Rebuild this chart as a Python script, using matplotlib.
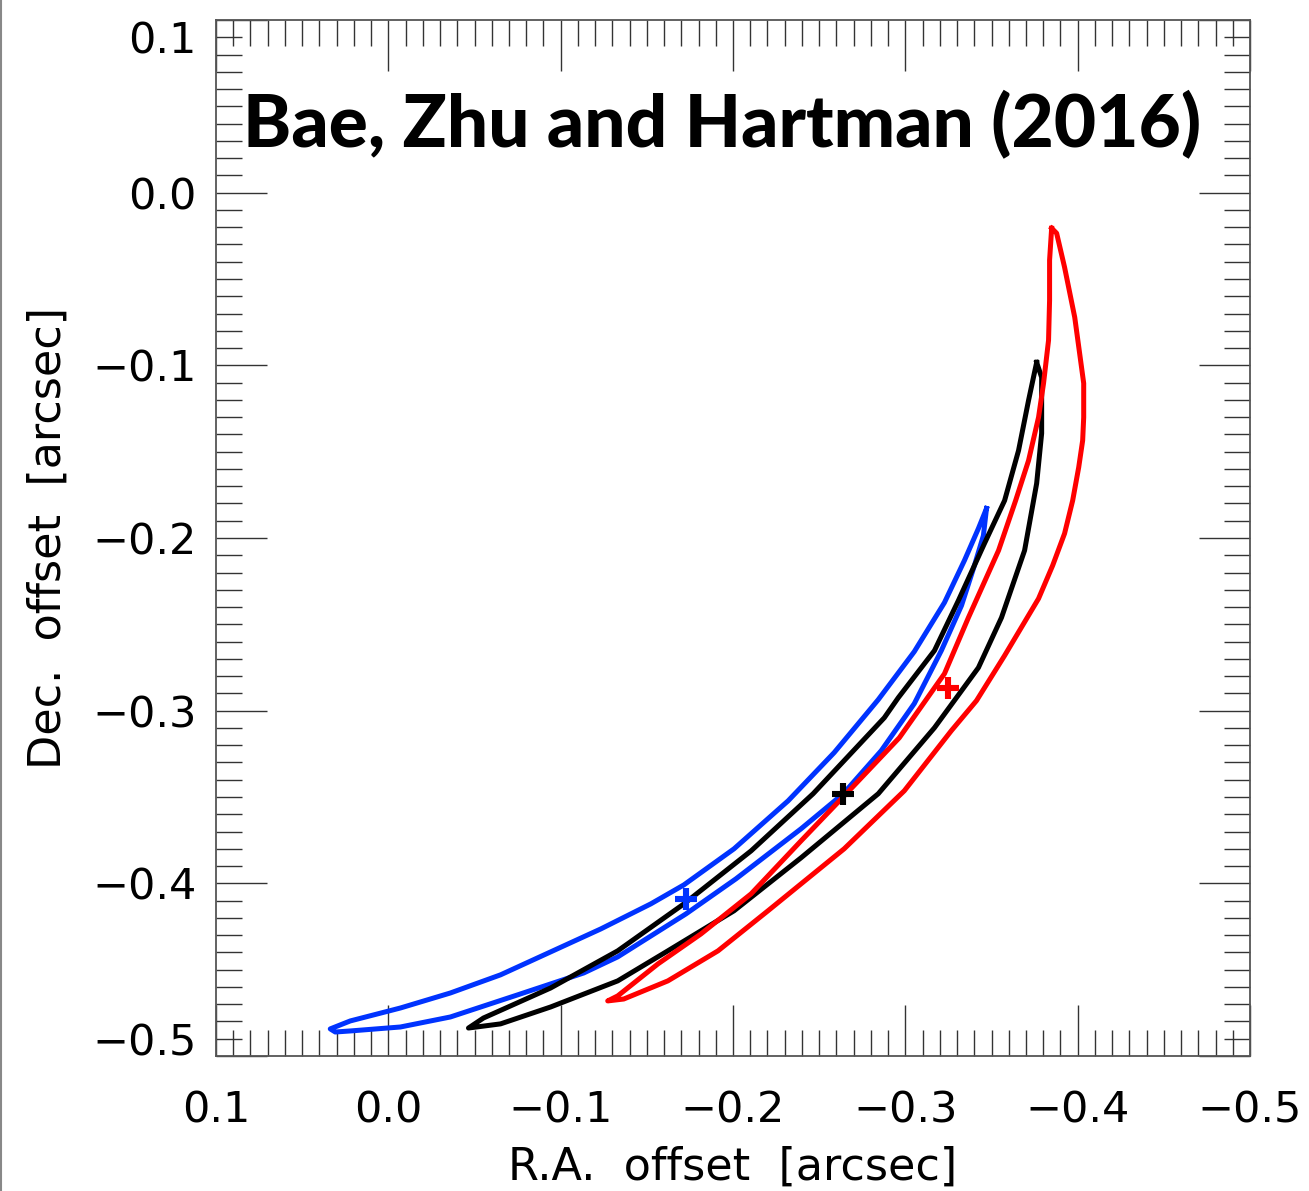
import matplotlib
matplotlib.use("Agg")
import matplotlib.pyplot as plt
from matplotlib.ticker import MultipleLocator, FixedLocator
from matplotlib.lines import Line2D
import matplotlib.transforms as mtransforms

# ---- data (arcsec) ----
red_x = [-0.3849, -0.3837, -0.3837, -0.3831, -0.3802, -0.3773, -0.3715, -0.3640, -0.3541, -0.3366,
         -0.3227, -0.2965, -0.2657, -0.2395, -0.2105, -0.1814, -0.1564, -0.1331, -0.1273,
         -0.1366, -0.1622, -0.1913, -0.2203, -0.2395, -0.2645, -0.2994, -0.3267, -0.3413,
         -0.3576, -0.3773, -0.3855, -0.3924, -0.3971, -0.4006, -0.4029, -0.4035, -0.4035,
         -0.3983, -0.3924, -0.3878, -0.3849]
red_y = [-0.0206, -0.0391, -0.0623, -0.0855, -0.1104, -0.1301, -0.1551, -0.1783, -0.2072, -0.2461,
         -0.2786, -0.3157, -0.3481, -0.3754, -0.4061, -0.4293, -0.4467, -0.4652, -0.4681,
         -0.4670, -0.4565, -0.4391, -0.4159, -0.4003, -0.3800, -0.3464, -0.3116, -0.2942,
         -0.2681, -0.2351, -0.2159, -0.1974, -0.1783, -0.1591, -0.1435, -0.1301, -0.1104,
         -0.0722, -0.0432, -0.0235, -0.0206]

black_x = [-0.3762, -0.3715, -0.3657, -0.3576, -0.3459, -0.3308, -0.3169, -0.2959, -0.2878, -0.2465,
           -0.2105, -0.1715, -0.1331, -0.0942, -0.0552, -0.0465,
           -0.0651, -0.0942, -0.1331, -0.1622, -0.2006, -0.2395, -0.2843, -0.3169, -0.3424,
           -0.3558, -0.3692, -0.3762, -0.3791, -0.3791, -0.3762]
black_y = [-0.0983, -0.1203, -0.1493, -0.1783, -0.2032, -0.2362, -0.2652, -0.2925, -0.3041, -0.3481,
           -0.3812, -0.4119, -0.4391, -0.4606, -0.4780, -0.4838,
           -0.4814, -0.4716, -0.4565, -0.4391, -0.4159, -0.3852, -0.3481, -0.3099, -0.2751,
           -0.2461, -0.2072, -0.1684, -0.1394, -0.1070, -0.0983]

blue_x = [-0.3471, -0.3424, -0.3343, -0.3227, -0.3052, -0.2843, -0.2587, -0.2320, -0.2006, -0.1715,
          -0.1523, -0.1233, -0.0942, -0.0651, -0.0360, -0.0070, 0.0221, 0.0337,
          0.0308, 0.0221, -0.0070, -0.0360, -0.0750, -0.1134, -0.1331, -0.1727, -0.2017,
          -0.2395, -0.2640, -0.2860, -0.3052, -0.3209, -0.3326, -0.3401, -0.3453, -0.3471]
blue_y = [-0.1829, -0.1945, -0.2130, -0.2374, -0.2658, -0.2936, -0.3243, -0.3522, -0.3800, -0.4009,
          -0.4119, -0.4264, -0.4397, -0.4530, -0.4635, -0.4722, -0.4797, -0.4843,
          -0.4861, -0.4855, -0.4832, -0.4774, -0.4646, -0.4519, -0.4426, -0.4177, -0.3974,
          -0.3684, -0.3481, -0.3232, -0.2959, -0.2652, -0.2391, -0.2159, -0.1986, -0.1829]

cross_x = [-0.1727, -0.2640, -0.3250]
cross_y = [-0.4090, -0.3481, -0.2867]
cross_colors = ["#0033ff", "black", "#ff0000"]

xticks = [0.1, 0.0, -0.1, -0.2, -0.3, -0.4, -0.5]
yticks = [0.1, 0.0, -0.1, -0.2, -0.3, -0.4, -0.5]
tick_labels = ["0.1", "0.0", "\u22120.1", "\u22120.2", "\u22120.3", "\u22120.4", "\u22120.5"]

title = "Bae, Zhu and Hartman (2016)"
xlabel = "R.A.  offset  [arcsec]"
ylabel = "Dec.  offset  [arcsec]"

# ---- figure ----
W, H = 1309, 1191
fig = plt.figure(figsize=(W / 100, H / 100), dpi=100)
ax = fig.add_axes([216 / W, 1 - 1056 / H, (1250 - 216) / W, (1056 - 20) / H])

lw = 3.6
ax.plot(blue_x, blue_y, color="#0033ff", lw=lw, solid_joinstyle="round")
ax.plot(black_x, black_y, color="black", lw=lw, solid_joinstyle="round")
ax.plot(red_x, red_y, color="#ff0000", lw=lw, solid_joinstyle="round")
for cx, cy, cc in zip(cross_x, cross_y, cross_colors):
    ax.plot([cx], [cy], marker="+", color=cc, markersize=16, markeredgewidth=4.4, ls="none")

ax.set_xlim(0.1, -0.5)
ax.set_ylim(-0.5, 0.1)
ax.xaxis.set_major_locator(FixedLocator(xticks))
ax.yaxis.set_major_locator(FixedLocator(yticks))
ax.set_xticklabels(tick_labels)
ax.set_yticklabels(tick_labels)
ax.xaxis.set_minor_locator(MultipleLocator(0.01))
ax.yaxis.set_minor_locator(MultipleLocator(0.01))

tick_col = "#333333"
ax.tick_params(which="both", direction="in", top=True, right=True, color=tick_col, width=1.0)
ax.tick_params(which="major", length=37, labelsize=31, pad=14)
ax.tick_params(axis="x", which="major", pad=24)
ax.tick_params(which="minor", length=19)
for sp in ax.spines.values():
    sp.set_color("#555555")
    sp.set_linewidth(1.3)

ax.set_xlabel(xlabel, fontsize=32, labelpad=10)
ax.set_ylabel(ylabel, fontsize=32, labelpad=16)

# IDL-style shift of the end y labels inward
yt = ax.yaxis.get_major_ticks()
yt[0].label1.set_transform(yt[0].label1.get_transform() +
                           mtransforms.ScaledTranslation(0, -12 / 72, fig.dpi_scale_trans))
yt[-1].label1.set_transform(yt[-1].label1.get_transform() +
                            mtransforms.ScaledTranslation(0, 12 / 72, fig.dpi_scale_trans))

# title fitted to width of reference
t = ax.text(243 / W, 1 - 147 / H, title, transform=fig.transFigure, fontsize=44,
            fontweight="black", family=["Lato", "DejaVu Sans"], ha="left", va="baseline")
fig.canvas.draw()
bb = t.get_window_extent()
t.set_fontsize(44 * (1200 - 243) / bb.width)

fig.add_artist(Line2D([1 / W, 1 / W], [0, 1], transform=fig.transFigure, color="#888888", lw=1.5))

fig.savefig("out.png", dpi=100)
